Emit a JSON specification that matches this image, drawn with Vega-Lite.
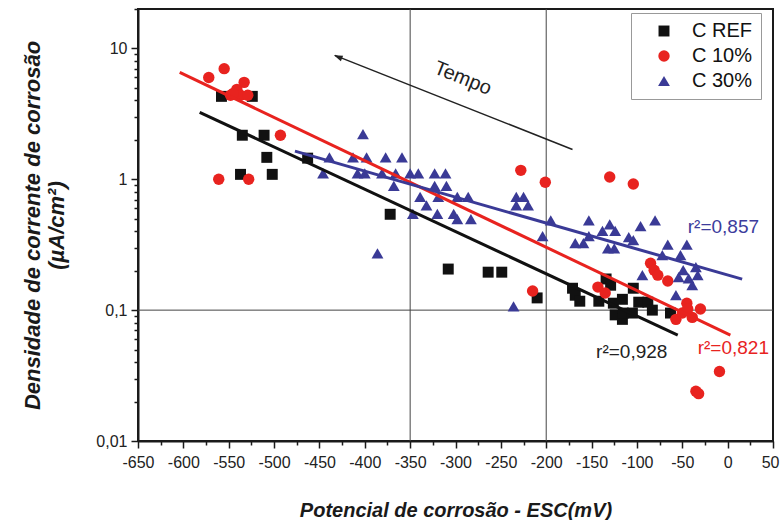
{
  "$schema": "https://vega.github.io/schema/vega-lite/v6.json",
  "width": 635,
  "height": 432,
  "autosize": {"type": "none"},
  "padding": {"left": 138, "top": 9, "right": 7, "bottom": 79},
  "background": "white",
  "config": {
    "font": "Liberation Sans",
    "view": {"stroke": "#1a1a1a", "strokeWidth": 2},
    "axis": {
      "grid": false,
      "domainColor": "#1a1a1a",
      "domainWidth": 2,
      "tickColor": "#1a1a1a",
      "tickWidth": 1.5,
      "labelColor": "#222222",
      "labelFontSize": 16,
      "labelFont": "Liberation Sans",
      "titleFont": "Liberation Sans",
      "titleFontSize": 20,
      "titleFontWeight": "bold",
      "titleFontStyle": "italic",
      "titleColor": "#1a1a1a"
    }
  },
  "encoding": {
    "x": {
      "field": "x",
      "type": "quantitative",
      "scale": {"domain": [-650, 50], "nice": false, "zero": false},
      "title": "Potencial de corrosão - ESC(mV)",
      "axis": {
        "values": [-650,-625,-600,-575,-550,-525,-500,-475,-450,-425,-400,-375,-350,-325,-300,-275,-250,-225,-200,-175,-150,-125,-100,-75,-50,-25,0,25,50],
        "labelExpr": "datum.value % 50 == 0 ? '' + datum.value : ''",
        "tickSize": {"condition": {"test": "datum.value % 50 == 0", "value": 7}, "value": 4},
        "labelAlign": {"condition": {"test": "datum.value == 50", "value": "right"}, "value": "center"},
        "labelOffset": {"condition": {"test": "datum.value == 50", "value": 6}, "value": 0},
        "labelOverlap": false,
        "labelFlush": false,
        "labelPadding": 6,
        "titlePadding": 30
      }
    },
    "y": {
      "field": "y",
      "type": "quantitative",
      "scale": {"type": "log", "domain": [0.01, 20], "nice": false},
      "title": ["Densidade de corrente de corrosão", "(µA/cm²)"],
      "axis": {
        "values": [0.01,0.02,0.03,0.04,0.05,0.06,0.07,0.08,0.09,0.1,0.2,0.3,0.4,0.5,0.6,0.7,0.8,0.9,1,2,3,4,5,6,7,8,9,10,20],
        "labelExpr": "datum.value == 10 ? '10' : datum.value == 1 ? '1' : datum.value == 0.1 ? '0,1' : datum.value == 0.01 ? '0,01' : ''",
        "tickSize": {"condition": {"test": "indexof([0.01,0.1,1,10], datum.value) >= 0", "value": 7}, "value": 4},
        "labelOverlap": false,
        "labelFlush": false,
        "labelPadding": 4,
        "titleFontSize": 22,
        "titlePadding": 27,
        "titleLineHeight": 24
      }
    }
  },
  "layer": [
    {
      "data": {"values": [{"x": -350, "y": 0.01, "y2": 20}, {"x": -200, "y": 0.01, "y2": 20}]},
      "mark": {"type": "rule", "color": "#444444", "strokeWidth": 1},
      "encoding": {"y2": {"field": "y2"}}
    },
    {
      "data": {"values": [{"x": -650, "x2": 50, "y": 0.1}]},
      "mark": {"type": "rule", "color": "#444444", "strokeWidth": 1},
      "encoding": {"x2": {"field": "x2"}}
    },
    {
      "data": {"values": [
        {"s":"C REF","x":-558,"y":4.3},{"s":"C REF","x":-524,"y":4.3},{"s":"C REF","x":-535,"y":2.17},{"s":"C REF","x":-511,"y":2.17},
        {"s":"C REF","x":-508,"y":1.47},{"s":"C REF","x":-537,"y":1.09},{"s":"C REF","x":-502,"y":1.09},{"s":"C REF","x":-463,"y":1.45},
        {"s":"C REF","x":-372,"y":0.54},{"s":"C REF","x":-308,"y":0.206},{"s":"C REF","x":-264,"y":0.195},{"s":"C REF","x":-249,"y":0.195},
        {"s":"C REF","x":-210,"y":0.124},{"s":"C REF","x":-171,"y":0.147},{"s":"C REF","x":-168,"y":0.13},{"s":"C REF","x":-163,"y":0.117},
        {"s":"C REF","x":-142,"y":0.117},{"s":"C REF","x":-134,"y":0.173},{"s":"C REF","x":-129,"y":0.155},{"s":"C REF","x":-126,"y":0.113},
        {"s":"C REF","x":-116,"y":0.121},{"s":"C REF","x":-124,"y":0.092},{"s":"C REF","x":-116,"y":0.085},{"s":"C REF","x":-115,"y":0.095},
        {"s":"C REF","x":-105,"y":0.095},{"s":"C REF","x":-104,"y":0.147},{"s":"C REF","x":-98,"y":0.115},{"s":"C REF","x":-88,"y":0.115},
        {"s":"C REF","x":-83,"y":0.1},{"s":"C REF","x":-63,"y":0.095},
        {"s":"C 10%","x":-572,"y":6.0},{"s":"C 10%","x":-555,"y":7.0},{"s":"C 10%","x":-533,"y":5.5},{"s":"C 10%","x":-541,"y":4.86},
        {"s":"C 10%","x":-548,"y":4.38},{"s":"C 10%","x":-537,"y":4.38},{"s":"C 10%","x":-529,"y":4.38},{"s":"C 10%","x":-545,"y":4.53},
        {"s":"C 10%","x":-493,"y":2.17},{"s":"C 10%","x":-561,"y":1.0},{"s":"C 10%","x":-528,"y":1.0},{"s":"C 10%","x":-228,"y":1.17},
        {"s":"C 10%","x":-201,"y":0.95},{"s":"C 10%","x":-130,"y":1.04},{"s":"C 10%","x":-104,"y":0.92},{"s":"C 10%","x":-215,"y":0.14},
        {"s":"C 10%","x":-143,"y":0.15},{"s":"C 10%","x":-135,"y":0.135},{"s":"C 10%","x":-85,"y":0.228},{"s":"C 10%","x":-81,"y":0.202},
        {"s":"C 10%","x":-77,"y":0.185},{"s":"C 10%","x":-66,"y":0.167},{"s":"C 10%","x":-57,"y":0.085},{"s":"C 10%","x":-50,"y":0.095},
        {"s":"C 10%","x":-45,"y":0.113},{"s":"C 10%","x":-39,"y":0.088},{"s":"C 10%","x":-30,"y":0.102},{"s":"C 10%","x":-44,"y":0.102},
        {"s":"C 10%","x":-9,"y":0.034},{"s":"C 10%","x":-35,"y":0.024},{"s":"C 10%","x":-32,"y":0.023},
        {"s":"C 30%","x":-402,"y":2.21},
        {"s":"C 30%","x":-439,"y":1.47},{"s":"C 30%","x":-413,"y":1.47},{"s":"C 30%","x":-398,"y":1.47},{"s":"C 30%","x":-377,"y":1.47},{"s":"C 30%","x":-359,"y":1.47},
        {"s":"C 30%","x":-446,"y":1.11},{"s":"C 30%","x":-408,"y":1.11},{"s":"C 30%","x":-400,"y":1.11},{"s":"C 30%","x":-381,"y":1.11},{"s":"C 30%","x":-366,"y":1.11},
        {"s":"C 30%","x":-350,"y":1.11},{"s":"C 30%","x":-341,"y":1.11},{"s":"C 30%","x":-323,"y":1.11},{"s":"C 30%","x":-311,"y":1.11},
        {"s":"C 30%","x":-368,"y":0.89},{"s":"C 30%","x":-323,"y":0.89},{"s":"C 30%","x":-310,"y":0.89},
        {"s":"C 30%","x":-339,"y":0.735},{"s":"C 30%","x":-319,"y":0.735},{"s":"C 30%","x":-298,"y":0.735},{"s":"C 30%","x":-286,"y":0.735},
        {"s":"C 30%","x":-332,"y":0.633},
        {"s":"C 30%","x":-347,"y":0.545},{"s":"C 30%","x":-320,"y":0.545},{"s":"C 30%","x":-302,"y":0.545},
        {"s":"C 30%","x":-298,"y":0.495},{"s":"C 30%","x":-283,"y":0.495},
        {"s":"C 30%","x":-386,"y":0.272},
        {"s":"C 30%","x":-233,"y":0.735},{"s":"C 30%","x":-225,"y":0.735},{"s":"C 30%","x":-233,"y":0.633},{"s":"C 30%","x":-220,"y":0.633},
        {"s":"C 30%","x":-195,"y":0.486},{"s":"C 30%","x":-204,"y":0.367},
        {"s":"C 30%","x":-236,"y":0.107},
        {"s":"C 30%","x":-153,"y":0.486},{"s":"C 30%","x":-130,"y":0.453},{"s":"C 30%","x":-96,"y":0.438},{"s":"C 30%","x":-80,"y":0.486},
        {"s":"C 30%","x":-138,"y":0.404},{"s":"C 30%","x":-124,"y":0.404},
        {"s":"C 30%","x":-153,"y":0.367},{"s":"C 30%","x":-109,"y":0.361},{"s":"C 30%","x":-104,"y":0.342},
        {"s":"C 30%","x":-168,"y":0.325},{"s":"C 30%","x":-159,"y":0.325},{"s":"C 30%","x":-132,"y":0.297},{"s":"C 30%","x":-125,"y":0.297},
        {"s":"C 30%","x":-66,"y":0.316},{"s":"C 30%","x":-45,"y":0.316},
        {"s":"C 30%","x":-72,"y":0.263},{"s":"C 30%","x":-52,"y":0.263},
        {"s":"C 30%","x":-94,"y":0.185},
        {"s":"C 30%","x":-49,"y":0.202},{"s":"C 30%","x":-35,"y":0.213},{"s":"C 30%","x":-33,"y":0.185},{"s":"C 30%","x":-54,"y":0.179},
        {"s":"C 30%","x":-43,"y":0.175},{"s":"C 30%","x":-39,"y":0.155},
        {"s":"C 30%","x":-57,"y":0.13}
      ]},
      "mark": {"type": "point", "filled": true, "opacity": 1},
      "encoding": {
        "color": {
          "field": "s", "type": "nominal",
          "scale": {"domain": ["C REF", "C 10%", "C 30%"], "range": ["#111111", "#e8231f", "#3a3a96"]},
          "legend": {
            "title": null, "orient": "none", "legendX": 493, "legendY": 4,
            "strokeColor": "#999999", "padding": 8,
            "labelFontSize": 20, "labelFont": "Liberation Sans", "labelColor": "#111111",
            "symbolSize": 70, "symbolOffset": 15, "labelOffset": 18, "rowPadding": 5
          }
        },
        "shape": {
          "field": "s", "type": "nominal",
          "scale": {"domain": ["C REF", "C 10%", "C 30%"], "range": ["square", "circle", "triangle-up"]},
          "legend": {
            "title": null, "orient": "none", "legendX": 493, "legendY": 4
          }
        },
        "size": {
          "field": "s", "type": "nominal",
          "scale": {"domain": ["C REF", "C 10%", "C 30%"], "range": [120, 140, 200]},
          "legend": null
        }
      }
    },
    {
      "data": {"values": [{"x": -582, "y": 3.25}, {"x": -55, "y": 0.0644}]},
      "mark": {"type": "line", "color": "#111111", "strokeWidth": 3}
    },
    {
      "data": {"values": [{"x": -604, "y": 6.56}, {"x": 3, "y": 0.0644}]},
      "mark": {"type": "line", "color": "#e8231f", "strokeWidth": 3}
    },
    {
      "data": {"values": [{"x": -477, "y": 1.64}, {"x": 16, "y": 0.1725}]},
      "mark": {"type": "line", "color": "#3a3a96", "strokeWidth": 3}
    },
    {
      "data": {"values": [{"x": -433, "y": 8.84, "x2": -171, "y2": 1.69}]},
      "mark": {"type": "rule", "color": "#222222", "strokeWidth": 1.5},
      "encoding": {"x2": {"field": "x2"}, "y2": {"field": "y2"}}
    },
    {
      "data": {"values": [{"x": -434, "y": 8.86}]},
      "mark": {"type": "point", "filled": true, "color": "#222222", "opacity": 1, "size": 300, "angle": 21.5, "shape": "M0,0 L1,-0.35 L1,0.35 Z"}
    },
    {
      "data": {"values": [{"x": -292, "y": 5.9, "t": "Tempo"}]},
      "mark": {"type": "text", "fontSize": 20, "color": "#222222", "angle": 22, "align": "center", "baseline": "middle"},
      "encoding": {"text": {"field": "t"}}
    },
    {
      "data": {"values": [{"x": -44, "y": 0.43, "t": "r²=0,857"}]},
      "mark": {"type": "text", "fontSize": 19, "color": "#3c3c9c", "align": "left", "baseline": "middle"},
      "encoding": {"text": {"field": "t"}}
    },
    {
      "data": {"values": [{"x": -145, "y": 0.0478, "t": "r²=0,928"}]},
      "mark": {"type": "text", "fontSize": 19, "color": "#222222", "align": "left", "baseline": "middle"},
      "encoding": {"text": {"field": "t"}}
    },
    {
      "data": {"values": [{"x": -33, "y": 0.0513, "t": "r²=0,821"}]},
      "mark": {"type": "text", "fontSize": 19, "color": "#e8231f", "align": "left", "baseline": "middle"},
      "encoding": {"text": {"field": "t"}}
    }
  ]
}
